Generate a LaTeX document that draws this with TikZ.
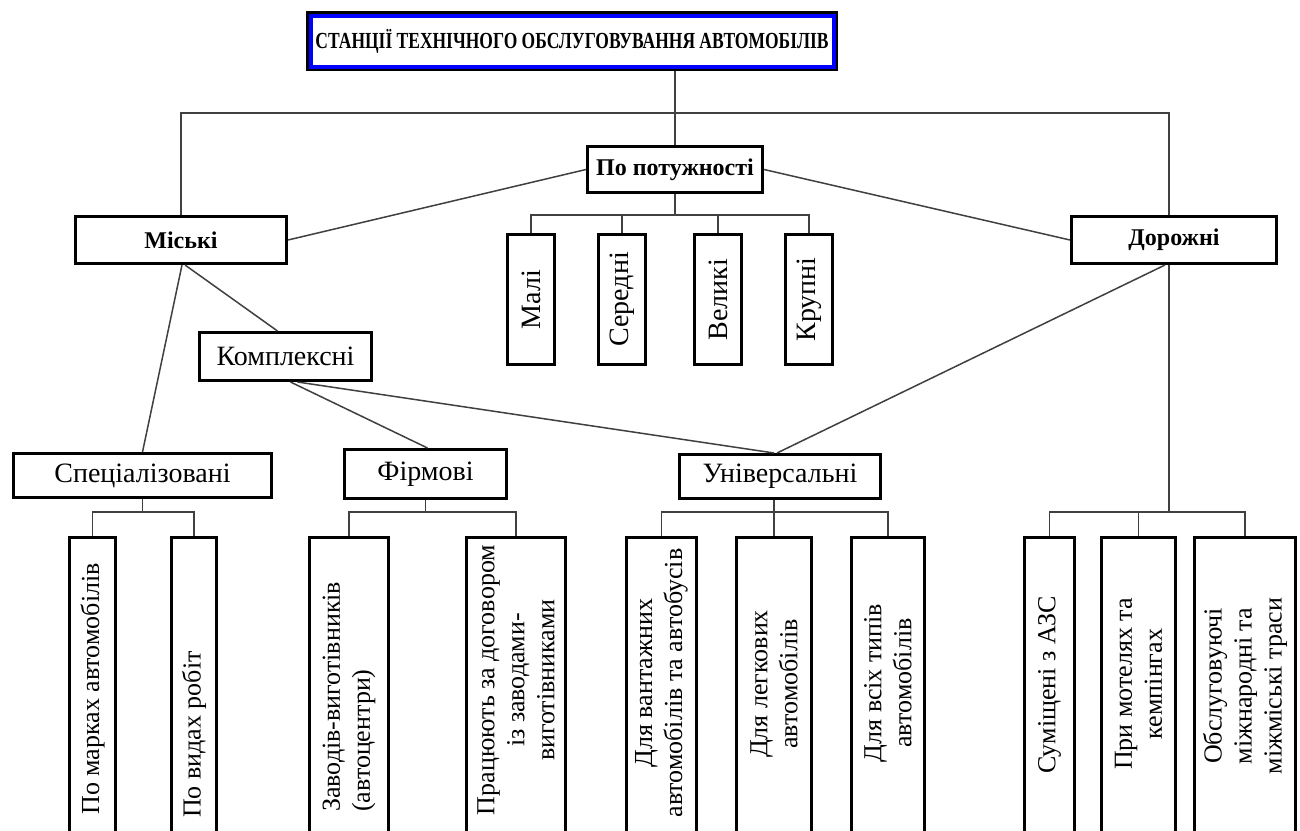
\documentclass[tikz,border=0pt]{standalone}
\usepackage{fontspec}
\setmainfont{Liberation Serif}
\usetikzlibrary{calc}
\begin{document}
\begin{tikzpicture}[x=1pt,y=-1pt,
  box/.style={draw=black, line width=3pt, inner sep=0pt, fill=white},
  boldlbl/.style={font=\fontsize{24}{26}\selectfont\bfseries},
  midlbl/.style={font=\fontsize{28}{30}\selectfont},
  botlbl/.style={font=\fontsize{26}{30}\selectfont, rotate=90, inner sep=0pt, align=center},
  conn/.style={draw=black!75, line width=1.5pt}
]
\clip (0,0) rectangle (1300,830);
\fill[white] (0,0) rectangle (1300,830);

% title
\node[draw=black, line width=5pt, fill=white, minimum width=527pt, minimum height=55pt, inner sep=0pt,
      font=\fontsize{23}{25}\selectfont\bfseries] (title) at (572,41) {\scalebox{0.76}[1]{СТАНЦІЇ ТЕХНІЧНОГО ОБСЛУГОВУВАННЯ АВТОМОБІЛІВ}};
\draw[blue, line width=4pt] ([shift={(4.5,4.5)}]title.north west) rectangle ([shift={(-4.5,-4.5)}]title.south east);

% level 1
\node[box, boldlbl, minimum width=175pt, minimum height=46pt] (pp) at (675,169.5) {По потужності};
\node[box, boldlbl, minimum width=211pt, minimum height=47pt] (mis) at (181,240) {Міські};
\node[box, boldlbl, minimum width=205pt, minimum height=47pt] (dor) at (1174,240) {Дорожні};

% power classes
\foreach \n/\x/\t in {mali/531/Малі, ser/622/Середні, vel/718/Великі, kru/809/Крупні}{
  \node[box, midlbl, rotate=90, minimum width=130pt, minimum height=47pt] (\n) at (\x,299.5) {\t};
}

% middle
\node[box, midlbl, minimum width=172pt, minimum height=48pt] (kom) at (285.5,356.5) {Комплексні};
\node[box, midlbl, minimum width=258pt, minimum height=44pt] (spec) at (142.5,475.5) {Спеціалізовані};
\node[box, midlbl, minimum width=162pt, minimum height=49pt] (firm) at (425.5,474) {Фірмові};
\node[box, midlbl, minimum width=201pt, minimum height=44pt] (univ) at (780,476.5) {Універсальні};

% bottom boxes (cut off by the page edge)
\foreach \n/\x/\w in {bpm/92.5/46, bpv/194/45, bzv/349/79, bpr/516/99, bdv/661.5/70, bdl/774/75, bdvs/888/73, bsm/1049.5/50, bmo/1138.5/74, bob/1245/101}{
  \node[box, minimum width=\w pt, minimum height=320pt, anchor=north] (\n) at (\x,535.5) {};
}

% bottom texts
\node[botlbl, anchor=center] (tpm) at (92.5,689) {По марках автомобілів};
\node[botlbl, anchor=west] (tpv) at (194,818) {По видах робіт};
\node[botlbl, anchor=west, align=left] (tzv) at (349,812) {Заводів-виготівників\\(автоцентри)};
\node[botlbl] (tpr) at (516,680) {Працюють за договором\\із заводами-\\виготівниками};
\node[botlbl] (tdv) at (661.5,683) {Для вантажних\\автомобілів та автобусів};
\node[botlbl] (tdl) at (774,684) {Для легкових\\автомобілів};
\node[botlbl] (tdvs) at (888,683) {Для всіх типів\\автомобілів};
\node[botlbl] (tsm) at (1049.5,685) {Суміщені з АЗС};
\node[botlbl] (tmo) at (1138.5,684) {При мотелях та\\кемпінгах};
\node[botlbl] (tob) at (1245,686) {Обслуговуючі\\міжнародні та\\міжміські траси};

% junction coordinates
\coordinate (hub) at (675,113);
\coordinate (ppj) at (675,215);
\coordinate (sj) at (142.5,512);
\coordinate (fj) at (425.5,512);
\coordinate (uj) at (774,512);
\coordinate (dj) at (1169,512);

% connectors
\draw[conn] ([xshift=103pt]title.south) -- (pp.north);
\draw[conn] (mis.north) |- (hub) -| ([xshift=-5pt]dor.north);
\draw[conn] (pp.west) -- (mis.east);
\draw[conn] (pp.east) -- (dor.west);
\draw[conn] (pp.south) -- (ppj);
\draw[conn] (mali.east) |- (ppj) -| (kru.east);
\draw[conn] (ser.east) -- (ser.east |- ppj);
\draw[conn] (vel.east) -- (vel.east |- ppj);

\draw[conn] ([xshift=1pt]mis.south) -- (spec.north);
\draw[conn] ([xshift=4pt]mis.south) -- ([xshift=-8pt]kom.north);
\draw[conn] ([xshift=5pt]kom.south) -- ([xshift=2pt]firm.north);
\draw[conn] ([xshift=12pt]kom.south) -- ([xshift=-6pt]univ.north);
\draw[conn] ([xshift=-9pt]dor.south) -- ([xshift=-3pt]univ.north);

\draw[conn] (spec.south) -- (sj);
\draw[conn] (bpm.north) |- (sj) -| (bpv.north);
\draw[conn] (firm.south) -- (fj);
\draw[conn] (bzv.north) |- (fj) -| (bpr.north);
\draw[conn] ([xshift=-6pt]univ.south) -- (uj) -- (bdl.north);
\draw[conn] (bdv.north) |- (uj) -| (bdvs.north);
\draw[conn] ([xshift=-5pt]dor.south) -- (dj);
\draw[conn] (bsm.north) |- (dj) -| (bob.north);
\draw[conn] (bmo.north) -- (bmo.north |- dj);
\end{tikzpicture}
\end{document}
